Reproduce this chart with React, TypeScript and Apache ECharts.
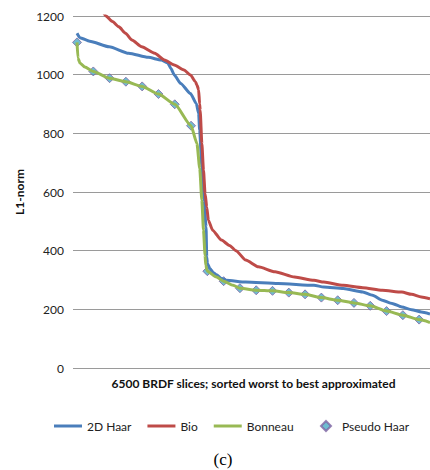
import React, { useEffect, useRef } from "react";
import * as echarts from "echarts";

// ---- data ----
const haarX = [0, 54, 233, 593, 952, 1311, 1550, 1670, 1730, 1791, 1909, 2089, 2196, 2240, 2258, 2299, 2340, 2376, 2389, 2401, 2448, 2509, 2568, 2658, 2748, 3107, 3705, 4364, 4544, 4903, 5262, 5442, 5621, 5801, 5981, 6160, 6340, 6500];
const haarY = [1141, 1126, 1114, 1095, 1073, 1059, 1050, 1040, 1021, 999, 970, 936, 902, 868, 811, 686, 572, 481, 379, 356, 339, 325, 318, 305, 299, 293, 288, 282, 276, 271, 259, 248, 231, 220, 208, 199, 191, 184];

const bioX = [0, 233, 413, 533, 652, 772, 893, 1011, 1191, 1431, 1611, 1791, 1970, 2089, 2179, 2209, 2240, 2258, 2268, 2299, 2329, 2358, 2389, 2419, 2496, 2660, 2807, 2927, 3107, 3340, 3646, 4005, 4364, 4544, 4903, 5262, 5621, 5981, 6160, 6340, 6500];
const bioY = [1420, 1300, 1235, 1200, 1181, 1163, 1141, 1118, 1095, 1073, 1050, 1033, 1016, 999, 976, 965, 948, 900, 879, 765, 674, 595, 549, 504, 470, 436, 418, 400, 368, 345, 328, 310, 299, 293, 282, 274, 265, 259, 251, 242, 236];

const bonX = [0, 18, 54, 144, 300, 600, 900, 1200, 1500, 1800, 2100, 2209, 2260, 2299, 2329, 2358, 2371, 2400, 2568, 2700, 2874, 3000, 3300, 3600, 3900, 4200, 4500, 4800, 5100, 5400, 5700, 6000, 6300, 6500];
const bonY = [1110, 1057, 1040, 1026, 1011, 988, 976, 960, 934, 899, 826, 765, 680, 572, 470, 385, 350, 330, 310, 296, 282, 272, 265, 263, 257, 251, 240, 231, 222, 212, 194, 180, 165, 155];

const pseudoX = [0, 300, 600, 900, 1200, 1500, 1800, 2100, 2400, 2700, 3000, 3300, 3600, 3900, 4200, 4500, 4800, 5100, 5400, 5700, 6000, 6300];
const pseudoY = [1110, 1011, 988, 976, 960, 934, 899, 826, 330, 296, 272, 265, 263, 257, 251, 240, 231, 222, 212, 194, 180, 165];

const seriesNames = ["2D Haar", "Bio", "Bonneau", "Pseudo Haar"];
const yTicks = { min: 0, max: 1200, interval: 200 };
const xRange = { min: 0, max: 6500 };
const xTitle = "6500 BRDF slices; sorted worst to best approximated";
const yTitle = "L1-norm";
const caption = "(c)";

const pairs = (xs: number[], ys: number[]) => xs.map((x, i) => [x, ys[i]]);

export default function App() {
  const ref = useRef<HTMLDivElement>(null);
  useEffect(() => {
    if (!ref.current) return;
    const chart = echarts.init(ref.current, undefined, { renderer: "svg" });
    const font = "Lato";
    const lineSeries = (name: string, data: number[][], color: string) => ({
      name,
      type: "line",
      data,
      symbol: "none",
      smooth: 0.2,
      smoothMonotone: "x",
      lineStyle: { color, width: 3 },
      itemStyle: { color },
    });
    chart.setOption({
      animation: false,
      textStyle: { fontFamily: font },
      grid: { left: 77, right: -9, top: 16, bottom: 102 },
      xAxis: {
        type: "value",
        min: xRange.min,
        max: xRange.max,
        axisLabel: { show: false },
        axisTick: { show: false },
        splitLine: { show: false },
        axisLine: { show: true, lineStyle: { color: "#9a9a9a", width: 1 } },
        name: xTitle,
        nameLocation: "middle",
        nameGap: 9,
        nameTextStyle: { fontFamily: font, fontWeight: "bold", fontSize: 12, color: "#111", verticalAlign: "top" },
      },
      yAxis: {
        type: "value",
        min: yTicks.min,
        max: yTicks.max,
        interval: yTicks.interval,
        axisLine: { show: false },
        axisTick: { show: true, length: 4, lineStyle: { color: "#9a9a9a" } },
        axisLabel: { fontFamily: font, fontSize: 12, color: "#222", margin: 13, formatter: (v: number) => String(v) },
        splitLine: { show: true, lineStyle: { color: "#9a9a9a", width: 1 } },
        name: yTitle,
        nameLocation: "middle",
        nameGap: 43,
        nameTextStyle: { fontFamily: font, fontWeight: "bold", fontSize: 12, color: "#111" },
      },
      legend: [
        {
          data: seriesNames.slice(0, 3).map((n) => ({ name: n, icon: "rect" })),
          left: 49,
          top: 415,
          itemWidth: 28,
          itemHeight: 3,
          itemGap: 16,
          textStyle: { fontFamily: font, fontSize: 12, color: "#222" },
        },
        {
          data: [{ name: seriesNames[3], icon: "diamond" }],
          left: 315,
          top: 415,
          itemWidth: 10,
          itemHeight: 10,
          textStyle: { fontFamily: font, fontSize: 12, color: "#222", padding: [0, 0, 0, 6] },
        },
      ],
      series: [
        lineSeries(seriesNames[0], pairs(haarX, haarY), "#4A7EBB"),
        lineSeries(seriesNames[1], pairs(bioX, bioY), "#BE4B48"),
        lineSeries(seriesNames[2], pairs(bonX, bonY), "#98B954"),
        {
          name: seriesNames[3],
          type: "scatter",
          data: pairs(pseudoX, pseudoY),
          symbol: "diamond",
          symbolSize: 9,
          itemStyle: { color: "#4BACC6", borderColor: "#8064A2", borderWidth: 1 },
        },
      ],
      graphic: [
        {
          type: "text",
          x: 223,
          y: 459,
          style: {
            text: caption,
            font: '17px "Liberation Serif"',
            fill: "#000",
            textAlign: "center",
            textVerticalAlign: "middle",
          },
        },
      ],
    });
    return () => chart.dispose();
  }, []);
  return (
    <div
      ref={ref}
      style={{ position: "absolute", left: 0, top: 0, width: 430, height: 470, background: "#fff" }}
    />
  );
}
